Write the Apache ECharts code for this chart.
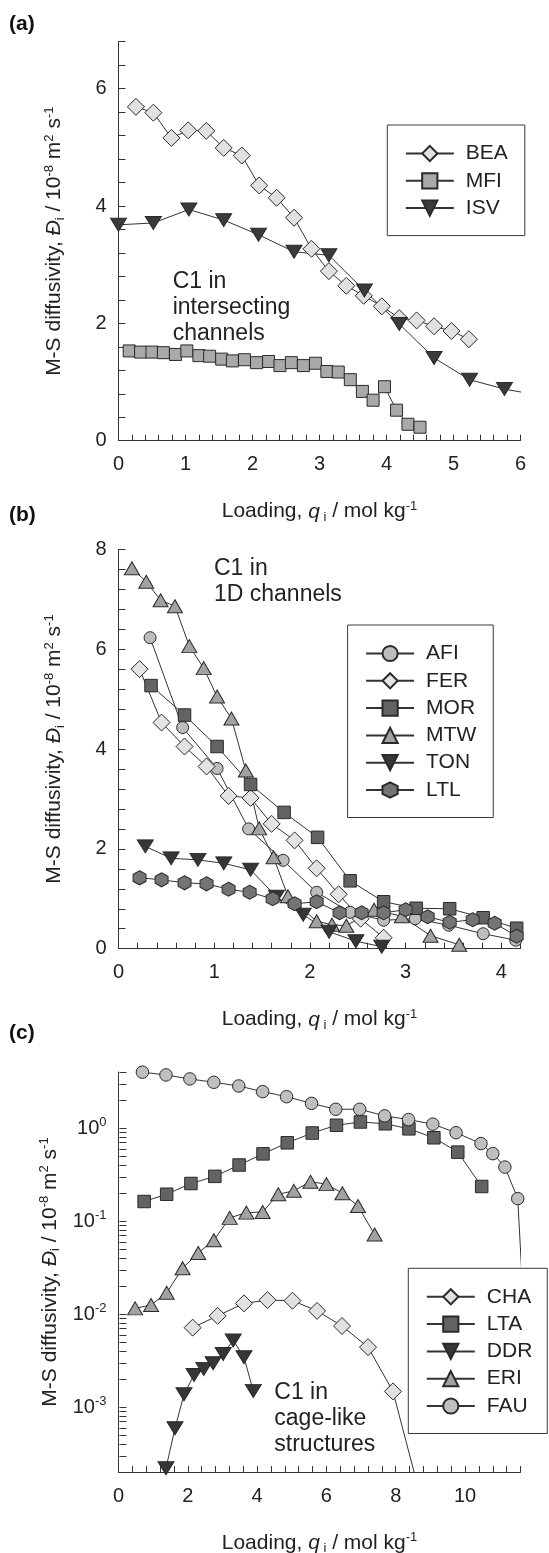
<!DOCTYPE html>
<html>
<head>
<meta charset="utf-8">
<script src="https://cdn.jsdelivr.net/npm/echarts@6/dist/echarts.min.js"></script>
<style>
html,body{margin:0;padding:0;background:#ffffff;}
#chart{width:549px;height:1553px;}
</style>
</head>
<body>
<div id="chart"></div>
<script>
// ---------------- Panel (a): C1 in intersecting channels ----------------
const BEA = [[0.26,5.69],[0.52,5.59],[0.79,5.16],[1.04,5.29],[1.31,5.28],[1.57,4.99],[1.84,4.86],[2.10,4.35],[2.36,4.14],[2.62,3.80],[2.88,3.27],[3.14,2.89],[3.40,2.64],[3.66,2.47],[3.93,2.29],[4.19,2.09],[4.45,2.05],[4.71,1.95],[4.97,1.87],[5.23,1.73]];
const MFI = [[0.16,1.53],[0.33,1.51],[0.50,1.51],[0.67,1.50],[0.85,1.47],[1.02,1.53],[1.20,1.45],[1.36,1.44],[1.54,1.39],[1.70,1.36],[1.88,1.38],[2.06,1.33],[2.24,1.35],[2.41,1.28],[2.58,1.33],[2.76,1.28],[2.94,1.32],[3.11,1.18],[3.28,1.17],[3.46,1.04],[3.64,0.84],[3.80,0.69],[3.97,0.92],[4.15,0.52],[4.32,0.28],[4.50,0.23]];
const ISV = [[0.00,3.68],[0.52,3.71],[1.05,3.94],[1.57,3.76],[2.09,3.51],[2.62,3.22],[3.14,3.16],[3.67,2.56],[4.19,1.99],[4.71,1.41],[5.24,1.04],[5.76,0.88],[6.29,0.77]];
const xLabelsA = [0,1,2,3,4,5,6];
const yLabelsA = [0,2,4,6];

// ---------------- Panel (b): C1 in 1D channels ----------------
const AFI = [[0.33,6.23],[0.67,4.43],[1.03,3.61],[1.36,2.40],[1.72,1.77],[2.07,1.13],[2.42,0.73],[2.77,0.57],[3.10,0.60],[3.45,0.47],[3.81,0.30],[4.15,0.17]];
const FER = [[0.22,5.60],[0.45,4.53],[0.69,4.05],[0.92,3.65],[1.15,3.06],[1.38,3.02],[1.60,2.50],[1.84,2.17],[2.07,1.61],[2.30,1.09],[2.53,0.60],[2.77,0.22]];
const MOR = [[0.34,5.27],[0.69,4.68],[1.03,4.05],[1.38,3.29],[1.73,2.73],[2.08,2.23],[2.42,1.36],[2.77,0.94],[3.11,0.81],[3.46,0.80],[3.81,0.62],[4.16,0.41]];
const MTW = [[0.14,7.62],[0.29,7.35],[0.44,6.98],[0.59,6.86],[0.74,6.06],[0.89,5.62],[1.03,5.05],[1.18,4.61],[1.33,3.57],[1.47,2.41],[1.62,1.83],[1.77,1.05],[2.07,0.55],[2.23,0.48],[2.38,0.46],[2.67,0.78],[2.96,0.65],[3.26,0.26],[3.56,0.08]];
const TON = [[0.28,2.05],[0.55,1.81],[0.83,1.78],[1.10,1.71],[1.38,1.58],[1.65,1.04],[1.93,0.68],[2.20,0.34],[2.48,0.15],[2.75,0.04]];
const LTL = [[0.22,1.42],[0.45,1.38],[0.69,1.32],[0.92,1.30],[1.15,1.19],[1.37,1.13],[1.61,1.00],[1.84,0.90],[2.07,0.94],[2.31,0.72],[2.54,0.72],[2.77,0.72],[3.00,0.78],[3.23,0.64],[3.46,0.53],[3.70,0.58],[3.93,0.51],[4.16,0.25]];
const xLabelsB = [0,1,2,3,4];
const yLabelsB = [0,2,4,6,8];

// ---------------- Panel (c): C1 in cage-like structures ----------------
const CHA = [[2.14,0.00713],[2.86,0.00955],[3.62,0.0130],[4.30,0.0141],[5.02,0.0139],[5.73,0.0108],[6.45,0.00743],[7.20,0.00440],[7.92,0.00147],[8.66,0.00013]];
const LTA = [[0.74,0.162],[1.39,0.194],[2.09,0.253],[2.78,0.302],[3.48,0.400],[4.17,0.527],[4.87,0.693],[5.59,0.883],[6.29,1.07],[6.98,1.16],[7.70,1.11],[8.38,0.98],[9.10,0.785],[9.79,0.55],[10.48,0.235]];
const DDR = [[1.37,0.00022],[1.63,0.00059],[1.89,0.00137],[2.18,0.00221],[2.46,0.00257],[2.73,0.00295],[3.02,0.00372],[3.31,0.0052],[3.62,0.00343],[3.89,0.00149]];
const ERI = [[0.48,0.0115],[0.94,0.0125],[1.39,0.0169],[1.85,0.0311],[2.30,0.0453],[2.75,0.0621],[3.21,0.108],[3.69,0.123],[4.16,0.125],[4.61,0.194],[5.06,0.211],[5.54,0.264],[6.00,0.249],[6.46,0.199],[6.91,0.145],[7.39,0.0715]];
const FAU = [[0.69,3.98],[1.37,3.72],[2.06,3.37],[2.75,3.10],[3.47,2.83],[4.16,2.46],[4.85,2.17],[5.57,1.84],[6.27,1.59],[6.96,1.59],[7.68,1.35],[8.37,1.23],[9.07,1.10],[9.74,0.89],[10.46,0.68],[10.80,0.53],[11.15,0.38],[11.52,0.174],[11.70,0.010]];
const xLabelsC = [0,2,4,6,8,10];
const logTicksC = [0.0002,0.0003,0.0004,0.0005,0.0006,0.0007,0.0008,0.0009,0.001,0.002,0.003,0.004,0.005,0.006,0.007,0.008,0.009,0.01,0.02,0.03,0.04,0.05,0.06,0.07,0.08,0.09,0.1,0.2,0.3,0.4,0.5,0.6,0.7,0.8,0.9,1,2,3,4];

// ---------------- styling ----------------
const FF = '"Liberation Sans", Arial, Helvetica, sans-serif';
const INK = '#222222';
const AXC = '#333333';
const LINEC = '#333333';

const SYM = {
  diamond: 'diamond',
  square: 'rect',
  circle: 'circle',
  up: 'triangle',
  down: 'path://M0,0 L2,0 L1,1.732 Z',
  hex: 'path://M0.866,0 L1.732,0.5 L1.732,1.5 L0.866,2 L0,1.5 L0,0.5 Z'
};

function pickLabel(list) {
  return function (v) {
    for (const l of list) { if (Math.abs(l - v) < 1e-6) return String(l); }
    return '';
  };
}

const richSS = {
  t: {fontSize: 21, fontFamily: FF, color: INK, lineHeight: 24},
  it: {fontSize: 21, fontFamily: FF, color: INK, fontStyle: 'italic', lineHeight: 24},
  sup: {fontSize: 13, fontFamily: FF, color: INK, verticalAlign: 'top', lineHeight: 14},
  sub: {fontSize: 13, fontFamily: FF, color: INK, verticalAlign: 'bottom', lineHeight: 14}
};

const X_NAME = 'Loading, {it|q}{sub| i}{t| / mol kg}{sup|-1}';
const Y_NAME = 'M-S diffusivity, {it|Đ}{sub|i}{t| / 10}{sup|-8}{t| m}{sup|2}{t| s}{sup|-1}';

function xAxisOf(grid, max, interval, labels) {
  return {
    gridIndex: grid, type: 'value', min: 0, max: max, interval: interval,
    name: X_NAME, nameLocation: 'middle', nameGap: 59,
    nameTextStyle: {fontSize: 21, fontFamily: FF, color: INK, lineHeight: 24, rich: richSS},
    axisLine: {show: true, onZero: false, lineStyle: {color: AXC, width: 1}},
    axisTick: {show: true, inside: true, length: 6, lineStyle: {color: AXC, width: 1}},
    axisLabel: {show: true, margin: 14, fontSize: 20, fontFamily: FF, color: INK, formatter: pickLabel(labels), showMinLabel: true, showMaxLabel: true},
    splitLine: {show: false}
  };
}
function yAxisOf(grid, max, interval, labels) {
  return {
    gridIndex: grid, type: 'value', min: 0, max: max, interval: interval,
    name: Y_NAME, nameLocation: 'middle', nameGap: 52, nameRotate: 90,
    nameTextStyle: {fontSize: 21, fontFamily: FF, color: INK, lineHeight: 24, rich: richSS},
    axisLine: {show: true, onZero: false, lineStyle: {color: AXC, width: 1}},
    axisTick: {show: true, inside: true, length: 7, lineStyle: {color: AXC, width: 1}},
    axisLabel: {show: true, margin: 12, fontSize: 20, fontFamily: FF, color: INK, formatter: pickLabel(labels), showMinLabel: true, showMaxLabel: true},
    splitLine: {show: false}
  };
}

function lineSeries(name, grid, data, symbol, size, fill) {
  return {
    type: 'line', name: name, xAxisIndex: grid, yAxisIndex: grid, data: data,
    symbol: symbol, symbolSize: size, showSymbol: true, showAllSymbol: true,
    clip: true, animation: false, silent: true,
    lineStyle: {color: LINEC, width: 1},
    itemStyle: {color: fill, borderColor: '#2a2a2a', borderWidth: 1, opacity: 1},
    emphasis: {disabled: true}
  };
}

function legendOf(names, left, top, rightPad) {
  return {
    data: names, orient: 'vertical', left: left, top: top,
    padding: [18, rightPad, 17, 17.5], itemWidth: 48, itemHeight: 19, itemGap: 6.3,
    borderColor: '#3a3a3a', borderWidth: 1, backgroundColor: '#ffffff',
    selectedMode: false,
    textStyle: {fontSize: 21, fontFamily: FF, color: INK, lineHeight: 21, padding: [0, 0, 0, 7]}
  };
}

const gridBase = {show: false, containLabel: false, outerBoundsMode: 'none'};

const option = {
  animation: false,
  backgroundColor: '#ffffff',
  textStyle: {fontFamily: FF},
  grid: [
    Object.assign({left: 118.5, top: 41.7, width: 402, height: 399}, gridBase),
    Object.assign({left: 118.5, top: 549.3, width: 402, height: 399.4}, gridBase),
    Object.assign({left: 118.5, top: 1072, width: 402, height: 400}, gridBase)
  ],
  xAxis: [
    xAxisOf(0, 6, 0.2, xLabelsA),
    xAxisOf(1, 4.2, 0.2, xLabelsB),
    xAxisOf(2, 11.6, 0.4, xLabelsC)
  ],
  yAxis: [
    yAxisOf(0, 6.8, 0.4, yLabelsA),
    yAxisOf(1, 8, 0.4, yLabelsB),
    {
      gridIndex: 2, type: 'log', logBase: 10, min: 0.0002, max: 4, splitNumber: 5,
      name: Y_NAME, nameLocation: 'middle', nameGap: 52, nameRotate: 90,
      nameTextStyle: {fontSize: 21, fontFamily: FF, color: INK, lineHeight: 24, rich: richSS},
      axisLine: {show: true, onZero: false, lineStyle: {color: AXC, width: 1}},
      axisTick: {show: false},
      axisLabel: {
        show: true, margin: 12, fontSize: 20, fontFamily: FF, color: INK, lineHeight: 24,
        showMinLabel: true, showMaxLabel: true,
        formatter: function (v) {
          const e = Math.log10(v); const r = Math.round(e);
          return Math.abs(e - r) < 1e-6 ? '10{sup|' + r + '}' : '';
        },
        rich: {sup: {fontSize: 13, fontFamily: FF, color: INK, verticalAlign: 'top', lineHeight: 14}}
      },
      splitLine: {show: false}
    }
  ],
  legend: [
    legendOf(['BEA', 'MFI', 'ISV'], 387.3, 125, 17),
    legendOf(['AFI', 'FER', 'MOR', 'MTW', 'TON', 'LTL'], 347.6, 625, 17),
    legendOf(['CHA', 'LTA', 'DDR', 'ERI', 'FAU'], 408.3, 1268.3, 15)
  ],
  series: [
    lineSeries('BEA', 0, BEA, SYM.diamond, 17, '#e1e1e1'),
    lineSeries('MFI', 0, MFI, SYM.square, 12, '#a9a9a9'),
    lineSeries('ISV', 0, ISV, SYM.down, [16, 13], '#3a3a3a'),

    lineSeries('AFI', 1, AFI, SYM.circle, 12, '#bdbdbd'),
    lineSeries('FER', 1, FER, SYM.diamond, 17, '#e3e3e3'),
    lineSeries('MOR', 1, MOR, SYM.square, 12.5, '#636363'),
    lineSeries('MTW', 1, MTW, SYM.up, [15, 13], '#a2a2a2'),
    lineSeries('TON', 1, TON, SYM.down, [16, 13], '#363636'),
    lineSeries('LTL', 1, LTL, SYM.hex, [13, 14], '#747474'),

    lineSeries('CHA', 2, CHA, SYM.diamond, 17, '#e1e1e1'),
    lineSeries('LTA', 2, LTA, SYM.square, 12.5, '#636363'),
    lineSeries('DDR', 2, DDR, SYM.down, [16, 13], '#363636'),
    lineSeries('ERI', 2, ERI, SYM.up, [15, 13], '#a2a2a2'),
    lineSeries('FAU', 2, FAU, SYM.circle, 12.5, '#bfbfbf'),

    {
      type: 'custom', name: 'logTicks', xAxisIndex: 2, yAxisIndex: 2, silent: true, animation: false,
      data: logTicksC.map(function (v) { return [0, v]; }),
      encode: {x: 0, y: 1},
      renderItem: function (params, api) {
        const p = api.coord([0, api.value(1)]);
        const y = Math.round(p[1]) + 0.5;
        const x = Math.round(p[0]) + 0.5;
        return {type: 'line', shape: {x1: x, y1: y, x2: x + 7, y2: y}, style: {stroke: AXC, lineWidth: 1}};
      }
    }
  ],
  graphic: [
    {type: 'text', left: 9, top: 13.5, style: {text: '(a)', font: 'bold 21px ' + FF, fill: '#111111'}},
    {type: 'text', left: 9, top: 504.5, style: {text: '(b)', font: 'bold 21px ' + FF, fill: '#111111'}},
    {type: 'text', left: 9, top: 1022.5, style: {text: '(c)', font: 'bold 21px ' + FF, fill: '#111111'}},
    {type: 'text', left: 172.7, top: 268.7, style: {text: 'C1 in\nintersecting\nchannels', font: '23px ' + FF, lineHeight: 26, fill: INK}},
    {type: 'text', left: 214, top: 555.3, style: {text: 'C1 in\n1D channels', font: '23px ' + FF, lineHeight: 26, fill: INK}},
    {type: 'text', left: 274.3, top: 1379.7, style: {text: 'C1 in\ncage-like\nstructures', font: '23px ' + FF, lineHeight: 26, fill: INK}}
  ]
};

const chart = echarts.init(document.getElementById('chart'), null, {renderer: 'canvas', width: 549, height: 1553});
chart.setOption(option);
</script>
</body>
</html>
